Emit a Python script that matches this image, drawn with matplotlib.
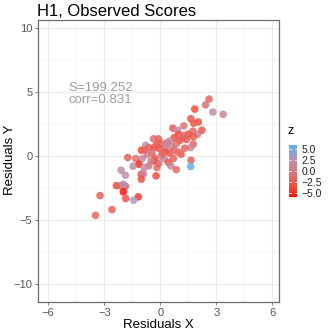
import numpy as np
import matplotlib
matplotlib.use("Agg")
import matplotlib.pyplot as plt
from matplotlib.colors import ListedColormap, Normalize, to_rgb

plt.rcParams['font.family'] = ['Liberation Sans', 'DejaVu Sans']

# ---- data ----
res_x = [2.61, 2.42, 1.84, 2.81, 3.36, 1.63, 2.03, 1.78, 1.25, 0.67, 0.93, 2.22, 1.74,
         1.50, 2.00, 0.97, 0.74, 1.15, 1.39, 1.76, 0.49, 0.86, 1.76, 1.62, 1.25, 1.05,
         -0.11, -0.37, -0.79, -1.02, -0.62, -0.32, -0.05, 0.23, 0.26, 0.49, 1.11, 0.05,
         0.21, 0.44, -1.75, -1.32, -0.97, -0.34, -1.15, -0.62, -1.46, -0.86, -0.18, 0.56,
         0.85, 1.64, 1.62, -2.10, -1.87, -1.02, -0.90, -0.23, -1.02, -2.35, -2.10, -1.87,
         -1.98, -1.98, -1.85, -1.18, -1.43, -3.23, -2.59, -3.47,
         0.00, 0.35, -0.20, 0.60, 0.10, -0.45, -0.70, 0.70, -0.30, 0.30, 0.75, -0.10,
         -0.50, 1.30, 0.95, -0.85]
res_y = [4.43, 3.98, 3.65, 3.42, 3.24, 2.90, 2.64, 2.55, 2.34, 2.16, 2.00, 2.00, 1.93,
         1.69, 1.69, 1.69, 1.43, 1.43, 1.28, 1.48, 1.15, 0.96, 0.91, 0.65, 1.60, 1.20,
         1.33, 1.33, 0.83, 0.44, 0.65, 0.65, 0.57, 0.65, 0.31, 0.23, 0.13, -0.03,
         -0.23, -0.52, -0.13, -0.21, -0.21, -0.39, -0.65, -0.78, -0.81, -0.91, -0.91, -0.78,
         -1.07, -0.34, -0.83, -1.12, -1.51, -1.43, -1.40, -1.56, -1.82, -2.32, -2.32, -2.37,
         -2.21, -2.81, -3.33, -3.20, -3.46, -3.10, -4.19, -4.64,
         1.00, 1.00, 0.90, 0.70, 0.20, 0.20, 0.10, -0.20, -0.20, 0.90, 0.45, -0.60,
         -0.40, 0.60, 0.30, 0.45]
z_vals = [-1.5, -0.5, -3.5, 2, 1, -3, -3, -2.5, -0.5, -2.5, 2, -3, -1.5,
          -3, 0.5, -3, -3, -1, -2.5, -2.5, 2, -1, -1.5, 1.5, -1.5, -2,
          -2, -1, 2, -3.5, -2, -3, -2.5, -1, -2, -3, -2.5, 0.5,
          1.5, -3, -2, -1, 1.5, -5.5, -5, 0, 2, 2, -1, 1.5,
          -1.5, -2, 5.5, 2, 2, -3, 1.5, -3.5, -3, -3.5, -2, -2.5,
          3, -5.5, -3, -4.5, 3.5, -2, -2, -1.5,
          -2.5, -1.5, -2, 1, -1.5, -1.5, 0.5, -2, -2.5, 1.5, -1, -1.5,
          1, -2, -1, -1.5]
x_ticks = [-6, -3, 0, 3, 6]
y_ticks = [-10, -5, 0, 5, 10]
z_ticks = [-5.0, -2.5, 0.0, 2.5, 5.0]
stat_text = "S=199.252\ncorr=0.831"

# ---- colour scale: red -> #56B1F7 interpolated in Lab (like ggplot) ----
def _lin(c):
    c = np.asarray(c)
    return np.where(c <= 0.04045, c / 12.92, ((c + 0.055) / 1.055) ** 2.4)

def _gam(c):
    c = np.clip(c, 0, 1)
    return np.where(c <= 0.0031308, 12.92 * c, 1.055 * c ** (1 / 2.4) - 0.055)

M = np.array([[0.4124, 0.3576, 0.1805], [0.2126, 0.7152, 0.0722], [0.0193, 0.1192, 0.9505]])
Mi = np.linalg.inv(M)
wp = M @ np.ones(3)

def _f(t):
    d = 6 / 29
    return np.where(t > d ** 3, np.cbrt(t), t / (3 * d * d) + 4 / 29)

def _fi(t):
    d = 6 / 29
    return np.where(t > d, t ** 3, 3 * d * d * (t - 4 / 29))

def to_lab(rgb):
    xyz = M @ _lin(rgb) / wp
    fx, fy, fz = _f(xyz)
    return np.array([116 * fy - 16, 500 * (fx - fy), 200 * (fy - fz)])

def from_lab(lab):
    L, a, b = lab
    fy = (L + 16) / 116
    xyz = np.array([_fi(fy + a / 500), _fi(fy), _fi(fy - b / 200)]) * wp
    return _gam(Mi @ xyz)

lo, hi = to_lab(to_rgb('#FF0000')), to_lab(to_rgb('#56B1F7'))
cols = [from_lab(lo + (hi - lo) * t) for t in np.linspace(0, 1, 256)]
cmap = ListedColormap(cols)
ZL = 5.8
norm = Normalize(vmin=-ZL, vmax=ZL)

# ---- figure ----
W = H = 332
fig = plt.figure(figsize=(W / 100, H / 100), dpi=100)
ax = fig.add_axes([38 / W, 1 - 302 / H, (279 - 38) / W, (302 - 20) / H])

ax.set_xlim(-6.55, 6.35)
ax.set_ylim(-11.4, 10.6)
ax.set_xticks(x_ticks)
ax.set_yticks(y_ticks)
ax.set_xticks([-4.5, -1.5, 1.5, 4.5], minor=True)
ax.set_yticks([-7.5, -2.5, 2.5, 7.5], minor=True)
ax.set_xticklabels([str(v).replace('-', '\u2212') for v in x_ticks])
ax.set_yticklabels([str(v).replace('-', '\u2212') for v in y_ticks])
ax.grid(which='major', color='#EBEBEB', lw=0.8)
ax.grid(which='minor', color='#F3F3F3', lw=0.5)
ax.set_axisbelow(True)
for s in ax.spines.values():
    s.set_color('#6E6E6E')
    s.set_linewidth(0.9)
ax.tick_params(which='major', length=2.5, width=0.6, color='#6E6E6E',
               labelsize=8, labelcolor='#555555', pad=1.5)
ax.tick_params(which='minor', length=0)

ax.scatter(res_x, res_y, c=z_vals, cmap=cmap, norm=norm, s=30, alpha=0.85,
           linewidths=0, zorder=3)

ax.text(-4.92, 5.75, stat_text, ha='left', va='top', fontsize=9.5,
        color='#9E9E9E', linespacing=0.95)

ax.set_xlabel('Residuals X', fontsize=9.5, labelpad=1)
fig.text(10 / W, 1 - 160 / H, 'Residuals Y', fontsize=9.5, rotation=90,
         ha='center', va='center')
fig.text(37 / W, 1 - 12 / H, 'H1, Observed Scores', fontsize=12,
         ha='left', va='center')

# ---- colourbar ----
cax = fig.add_axes([289 / W, 1 - 197 / H, 8 / W, 52 / H])
grad = np.linspace(-ZL, ZL, 256).reshape(-1, 1)
cax.imshow(grad, aspect='auto', cmap=cmap, norm=norm, origin='lower',
           extent=[0, 1, -ZL, ZL])
cax.set_xticks([])
cax.yaxis.tick_right()
cax.set_yticks(z_ticks)
cax.set_yticklabels([f"{v:.1f}".replace('-', '\u2212') for v in z_ticks])
cax.tick_params(axis='y', length=0, labelsize=7.5, labelcolor='#222222', pad=3)
for s in cax.spines.values():
    s.set_visible(False)
for v in z_ticks:
    cax.plot([0, 0.2], [v, v], color='white', lw=0.5)
    cax.plot([0.8, 1], [v, v], color='white', lw=0.5)
cax.set_xlim(0, 1)
cax.set_ylim(-ZL, ZL)
fig.text(287 / W, 1 - 131 / H, 'z', fontsize=9, ha='left', va='center')

fig.savefig('out.png', dpi=100)
